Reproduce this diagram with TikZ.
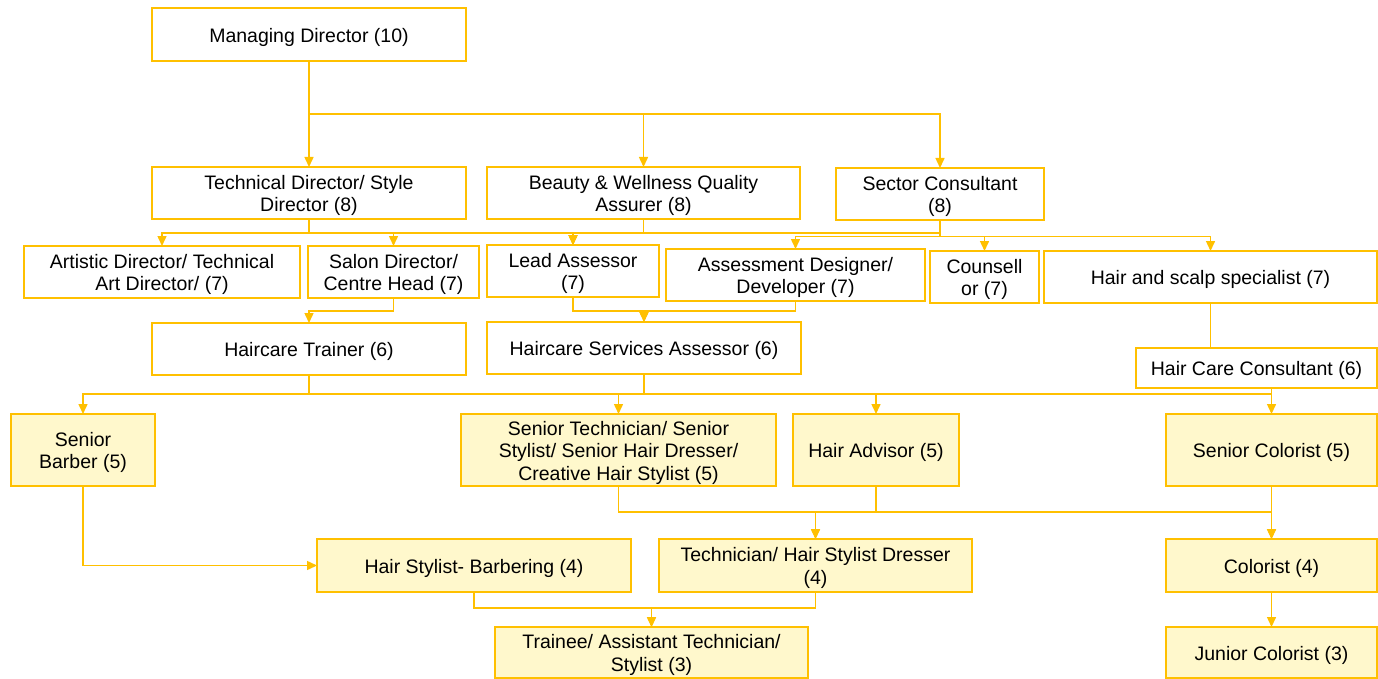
\documentclass[tikz,border=0pt]{standalone}
\usepackage{fontspec}
\setmainfont{Liberation Sans}
\usetikzlibrary{arrows.meta}
\definecolor{gold}{RGB}{255,192,0}
\definecolor{paleyellow}{RGB}{255,248,204}
\tikzset{
  whitebox/.style={draw=gold, line width=1.4pt, fill=white, inner sep=0pt, outer sep=0pt},
  yellowbox/.style={whitebox, fill=paleyellow},
  boxtext/.style={inner sep=0pt, align=center, font=\fontsize{19.5}{22.5}\selectfont},
  conn/.style={draw=gold, line width=1.5pt, -{Triangle[length=10pt,width=9pt]}},
  plainconn/.style={draw=gold, line width=1.5pt},
}
\newcommand{\bx}[7]{\node[#6, minimum width={(#4-#2)*1pt}, minimum height={(#5-#3)*1pt}] (#1) at ({(#2+#4)/2},{(#3+#5)/2}) {};
  \node[boxtext] (#1-t) at ([yshift=-2.5pt]#1.center) {#7};}
\begin{document}
\begin{tikzpicture}[x=1pt,y=-1pt]
\useasboundingbox (0,0) rectangle (1378,679);
% bus levels
\coordinate (y1) at (0,114);
\coordinate (y2) at (0,233);
\coordinate (y2b) at (0,236.5);
\coordinate (y3) at (0,311);
\coordinate (y4) at (0,394);
\coordinate (y5) at (0,512);
\coordinate (y6) at (0,608);
% boxes
\bx{MD}{152}{8}{466}{61}{whitebox}{Managing Director (10)}
\bx{TD}{152}{167}{466}{219}{whitebox}{Technical Director/ Style\\Director (8)}
\bx{BW}{487}{167}{800}{219}{whitebox}{Beauty \& Wellness Quality\\Assurer (8)}
\bx{SC}{836}{168}{1044}{220}{whitebox}{Sector Consultant\\(8)}
\bx{AD}{24}{246}{300}{298}{whitebox}{Artistic Director/ Technical\\Art Director/ (7)}
\bx{SD}{308}{246}{479}{298}{whitebox}{Salon Director/\\Centre Head (7)}
\bx{LA}{487}{245}{659}{297}{whitebox}{Lead Assessor\\(7)}
\bx{ADD}{666}{249}{925}{301}{whitebox}{Assessment Designer/\\Developer (7)}
\bx{CO}{930}{251}{1039}{303}{whitebox}{Counsell\\or (7)}
\bx{HS}{1044}{251}{1377}{303}{whitebox}{Hair and scalp specialist (7)}
\bx{HT}{152}{323}{466}{375}{whitebox}{Haircare Trainer (6)}
\bx{HSA}{487}{322}{801}{374}{whitebox}{Haircare Services Assessor (6)}
\bx{HCC}{1136}{348}{1377}{388}{whitebox}{Hair Care Consultant (6)}
\bx{SB}{11}{414}{155}{486}{yellowbox}{Senior\\Barber (5)}
\bx{ST}{461}{414}{776}{486}{yellowbox}{Senior Technician/ Senior\\Stylist/ Senior Hair Dresser/\\Creative Hair Stylist (5)}
\bx{HA}{793}{414}{959}{486}{yellowbox}{Hair Advisor (5)}
\bx{SCo}{1166}{414}{1377}{486}{yellowbox}{Senior Colorist (5)}
\bx{HSB}{317}{539}{631}{592}{yellowbox}{Hair Stylist- Barbering (4)}
\bx{TH}{659}{539}{972}{592}{yellowbox}{Technician/ Hair Stylist Dresser\\(4)}
\bx{Col}{1166}{539}{1377}{592}{yellowbox}{Colorist (4)}
\bx{TR}{495}{627}{808}{678}{yellowbox}{Trainee/ Assistant Technician/\\Stylist (3)}
\bx{JC}{1166}{627}{1377}{678}{yellowbox}{Junior Colorist (3)}
% level 1
\draw[conn] (MD.south) -- (MD.south |- y1) -| (TD.north);
\draw[conn] (MD.south) -- (MD.south |- y1) -| (BW.north);
\draw[conn] (MD.south) -- (MD.south |- y1) -| (SC.north);
% level 2
\draw[conn] (TD.south) -- (TD.south |- y2) -| (AD.north);
\draw[conn] (TD.south) -- (TD.south |- y2) -| (SD.north);
\draw[conn] (TD.south) -- (TD.south |- y2) -| (LA.north);
\draw[conn] (BW.south) -- (BW.south |- y2) -| (LA.north);
\draw[conn] (SC.south) -- (SC.south |- y2) -| (LA.north);
\draw[conn] (SC.south) -- (SC.south |- y2b) -| (ADD.north);
\draw[conn] (SC.south) -- (SC.south |- y2b) -| (CO.north);
\draw[conn] (SC.south) -- (SC.south |- y2b) -| (HS.north);
% level 3
\draw[conn] (SD.south) -- (SD.south |- y3) -| (HT.north);
\draw[conn] (LA.south) -- (LA.south |- y3) -| (HSA.north);
\draw[conn] (ADD.south) -- (ADD.south |- y3) -| (HSA.north);
\draw[plainconn] (HS.south) -- (HS.south |- HCC.north);
% level 4
\draw[conn] (HT.south) -- (HT.south |- y4) -| (SB.north);
\draw[conn] (HT.south) -- (HT.south |- y4) -| (ST.north);
\draw[conn] (HSA.south) -- (HSA.south |- y4) -| (HA.north);
\draw[conn] (HT.south) -- (HT.south |- y4) -| (SCo.north);
\draw[plainconn] (SCo.north |- HCC.south) -- (SCo.north |- y4);
% level 5
\draw[conn] (SB.south) |- (HSB.west);
\draw[conn] (ST.south) -- (ST.south |- y5) -| (TH.north);
\draw[conn] (HA.south) -- (HA.south |- y5) -| (TH.north);
\draw[conn] (ST.south) -- (ST.south |- y5) -| (Col.north);
\draw[conn] (SCo.south) -- (Col.north);
% level 6
\draw[conn] (HSB.south) -- (HSB.south |- y6) -| (TR.north);
\draw[conn] (TH.south) -- (TH.south |- y6) -| (TR.north);
\draw[conn] (Col.south) -- (JC.north);
\end{tikzpicture}
\end{document}
